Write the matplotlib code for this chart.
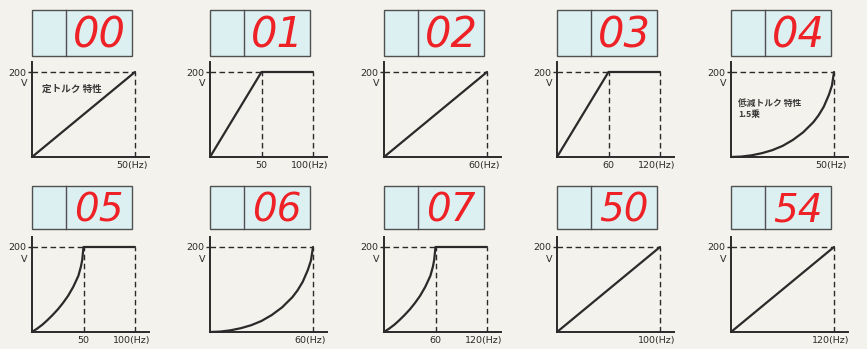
import matplotlib
matplotlib.use("Agg")
import matplotlib.pyplot as plt
from matplotlib.patches import Rectangle

# ---------------- data ----------------
codes = ["00", "01", "02", "03", "04", "05", "06", "07", "50", "54"]

hz_00 = [0, 50];            v_00 = [0, 200]
hz_01 = [0, 50, 100];       v_01 = [0, 200, 200]
hz_02 = [0, 60];            v_02 = [0, 200]
hz_03 = [0, 60, 120];       v_03 = [0, 200, 200]
hz_04 = [0, 5, 10, 15, 20, 25, 30, 35, 40, 42.5, 45, 47.5, 49, 50]
v_04 = [0, 1, 4, 9, 16, 26, 40, 58, 82, 98, 118, 146, 168, 200]
hz_05 = [0, 5, 10, 15, 20, 25, 30, 35, 40, 45, 47.5, 48.8, 50, 100]
v_05 = [0, 8, 17, 28, 40, 53, 68, 85, 106, 132, 154, 170, 200, 200]
hz_06 = [0, 6, 12, 18, 24, 30, 36, 42, 48, 51, 54, 57, 58.8, 60]
v_06 = [0, 1, 4, 9, 16, 26, 40, 58, 82, 98, 118, 146, 168, 200]
hz_07 = [0, 6, 12, 18, 24, 30, 36, 42, 48, 54, 57, 58.5, 60, 120]
v_07 = [0, 8, 17, 28, 40, 53, 68, 85, 106, 132, 154, 170, 200, 200]
hz_50 = [0, 100];           v_50 = [0, 200]
hz_54 = [0, 120];           v_54 = [0, 200]

series_hz = [hz_00, hz_01, hz_02, hz_03, hz_04, hz_05, hz_06, hz_07, hz_50, hz_54]
series_v = [v_00, v_01, v_02, v_03, v_04, v_05, v_06, v_07, v_50, v_54]

# marked frequencies (dashed verticals) and their labels
marks_hz = [[50], [50, 100], [60], [60, 120], [50], [50, 100], [60], [60, 120], [100], [120]]
marks_lbl = [["50(Hz)"], ["50", "100(Hz)"], ["60(Hz)"], ["60", "120(Hz)"], ["50(Hz)"],
             ["50", "100(Hz)"], ["60(Hz)"], ["60", "120(Hz)"], ["100(Hz)"], ["120(Hz)"]]
v_rated = 200
y_tick_label = "200"
y_unit = "V"
note_00 = "定トルク 特性"
note_04_a = "低減トルク 特性"
note_04_b = "1.5乗"

# ---------------- layout ----------------
W, H = 867, 349
fig = plt.figure(figsize=(W / 100, H / 100), dpi=100)
fig.patch.set_facecolor("#f3f2ec")

def rect(x, y_top, w, h):
    return [x / W, 1 - (y_top + h) / H, w / W, h / H]

col_x = [32, 210, 384, 557, 731]
rows = [dict(box_top=10, box_bot=56, axis_y=157, dig_base=48, dig_fs=30),
        dict(box_top=186, box_bot=229, axis_y=332, dig_base=222, dig_fs=28)]

INK = "#2a2a2a"
RED = "#ee2226"
BOXC = "#dcf0f2"
JP = ["Noto Sans CJK JP", "DejaVu Sans"]

for i, code in enumerate(codes):
    r = rows[i // 5]
    x0 = col_x[i % 5]

    # display box
    bax = fig.add_axes(rect(x0, r["box_top"], 100, r["box_bot"] - r["box_top"]))
    bax.set_xlim(0, 100); bax.set_ylim(0, 1)
    bax.axis("off")
    bax.add_patch(Rectangle((0, 0), 100, 1, facecolor=BOXC, edgecolor="#505050",
                            lw=1.0, clip_on=False))
    bax.plot([34, 34], [0, 1], color="#505050", lw=1.0, clip_on=False)
    fig.text((x0 + 67) / W, 1 - r["dig_base"] / H, code, color=RED, fontsize=r["dig_fs"],
             fontstyle="oblique", ha="center", va="baseline", family="DejaVu Sans")

    # graph
    hz = series_hz[i]; v = series_v[i]
    xmax = max(marks_hz[i])
    ax = fig.add_axes(rect(x0, r["axis_y"] - 95, 117, 95))
    ax.set_facecolor("none")
    ax.set_xlim(0, xmax * 117 / 103)
    ax.set_ylim(0, v_rated * 95 / 85)
    for s in ["top", "right"]:
        ax.spines[s].set_visible(False)
    for s in ["left", "bottom"]:
        ax.spines[s].set_linewidth(1.4)
        ax.spines[s].set_color(INK)
    ax.set_xticks([])
    ax.set_yticks([v_rated])
    ax.set_yticklabels([y_tick_label], fontsize=6.8, color=INK)
    ax.tick_params(axis="y", length=3, width=1, color=INK, pad=1)

    # dashed guides
    first = marks_hz[i][0]
    ax.plot([0, first], [v_rated, v_rated], color=INK, lw=1.0, dashes=(4, 2.5))
    for m in marks_hz[i]:
        ax.plot([m, m], [0, v_rated], color=INK, lw=1.0, dashes=(4, 2.5))
    for m, lab in zip(marks_hz[i], marks_lbl[i]):
        off = -3 if "(" in lab else 0
        ax.annotate(lab, xy=(m, 0), xycoords="data", xytext=(off * 0.72, -3),
                    textcoords="offset points", ha="center", va="top",
                    fontsize=6.8, color=INK)
    ax.plot(hz, v, color=INK, lw=1.6, solid_capstyle="round", solid_joinstyle="round",
            clip_on=False)

    fig.text((x0 - 8) / W, 1 - (r["axis_y"] - 73) / H, y_unit, fontsize=6.8, color=INK,
             ha="center", va="center")

fig.text(42 / W, 1 - 89 / H, note_00, fontsize=6.9, color="#3a3a3a", family=JP,
         ha="left", va="center", fontweight="bold")
fig.text(738 / W, 1 - 104 / H, note_04_a, fontsize=6.3, color="#3a3a3a", family=JP,
         ha="left", va="center", fontweight="bold")
fig.text(738 / W, 1 - 115 / H, note_04_b, fontsize=6.3, color="#3a3a3a", family=JP,
         ha="left", va="center", fontweight="bold")

fig.savefig("out.png", dpi=100, facecolor=fig.get_facecolor())
